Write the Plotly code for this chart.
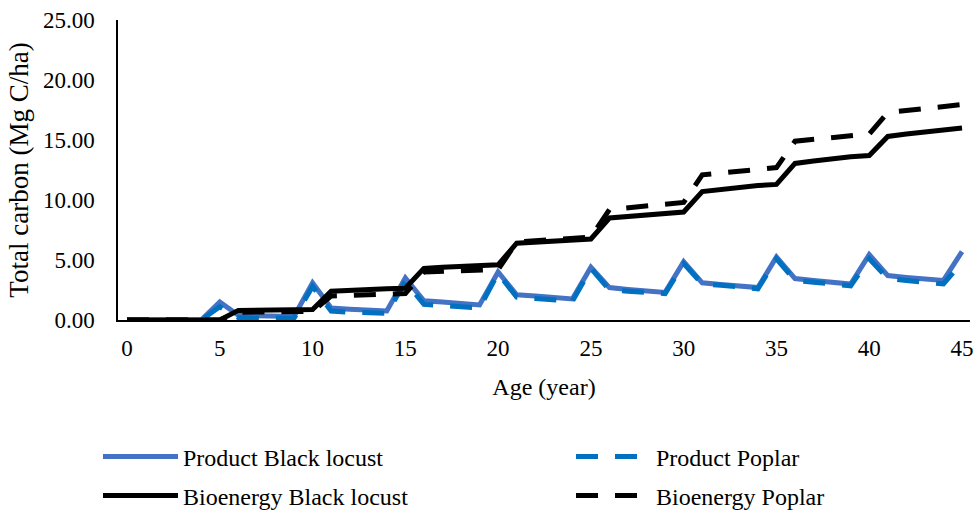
import plotly.graph_objects as go

age = list(range(0, 46))

product_black_locust = [0, 0, 0, 0, 0, 1.5, 0.4, 0.35, 0.3, 0.3,
                        3.1, 1.0, 0.9, 0.8, 0.75, 3.5, 1.6, 1.5, 1.35, 1.25,
                        4.0, 2.1, 2.0, 1.85, 1.75, 4.4, 2.7, 2.55, 2.4, 2.3,
                        4.85, 3.1, 2.95, 2.8, 2.7, 5.25, 3.45, 3.3, 3.15, 3.0,
                        5.45, 3.7, 3.55, 3.4, 3.3, 5.7]
product_poplar = [0, 0, 0, 0, 0, 1.1, 0.2, 0.15, 0.15, 0.15,
                  2.8, 0.75, 0.65, 0.6, 0.55, 3.2, 1.3, 1.2, 1.1, 1.0,
                  3.9, 1.9, 1.8, 1.65, 1.55, 4.3, 2.5, 2.4, 2.3, 2.2,
                  4.7, 3.0, 2.9, 2.75, 2.6, 5.1, 3.3, 3.15, 3.0, 2.85,
                  5.1, 3.45, 3.3, 3.15, 3.0, 4.8]
bioenergy_black_locust = [0, 0, 0, 0, 0, 0, 0.8, 0.82, 0.84, 0.85,
                          0.87, 2.4, 2.5, 2.55, 2.6, 2.65, 4.3, 4.4, 4.45, 4.5,
                          4.6, 6.4, 6.5, 6.6, 6.7, 6.75, 8.5, 8.65, 8.8, 8.9,
                          9.0, 10.7, 10.9, 11.05, 11.2, 11.3, 13.05, 13.25, 13.45, 13.6,
                          13.7, 15.3, 15.5, 15.65, 15.85, 16.0]
bioenergy_poplar = [0, 0, 0, 0, 0, 0, 0.65, 0.68, 0.7, 0.7,
                    0.72, 2.0, 2.05, 2.1, 2.15, 2.2, 4.0, 4.05, 4.1, 4.15,
                    4.2, 6.5, 6.6, 6.7, 6.8, 6.9, 9.2, 9.35, 9.5, 9.65,
                    9.8, 12.1, 12.25, 12.4, 12.55, 12.7, 14.9, 15.05, 15.2, 15.35,
                    15.5, 17.3, 17.45, 17.6, 17.75, 17.95]

x_ticks = [0, 5, 10, 15, 20, 25, 30, 35, 40, 45]
y_ticks = [0, 5, 10, 15, 20, 25]

FONT = "Liberation Serif, Times New Roman, serif"
DASH = "22px,17px"

fig = go.Figure()
fig.add_trace(go.Scatter(x=age, y=product_black_locust, mode="lines",
                         name="Product Black locust", legend="legend",
                         line=dict(color="#4472C4", width=5)))
fig.add_trace(go.Scatter(x=age, y=product_poplar, mode="lines",
                         name="Product Poplar", legend="legend2",
                         line=dict(color="#0070C0", width=5, dash=DASH)))
fig.add_trace(go.Scatter(x=age, y=bioenergy_black_locust, mode="lines",
                         name="Bioenergy Black locust", legend="legend3",
                         line=dict(color="#000000", width=5)))
fig.add_trace(go.Scatter(x=age, y=bioenergy_poplar, mode="lines",
                         name="Bioenergy Poplar", legend="legend4",
                         line=dict(color="#000000", width=5, dash=DASH)))

L, R, T, B = 118, 8, 20, 191
W, H = 978, 511
pw, ph = W - L - R, H - T - B


def leg(xpx, ypx, iw):
    return dict(x=xpx / W, xref="container", xanchor="left",
                y=1 - ypx / H, yref="container", yanchor="middle",
                orientation="h", itemwidth=iw, bgcolor="rgba(0,0,0,0)",
                font=dict(family=FONT, size=24, color="black"))


fig.update_layout(
    width=W, height=H,
    margin=dict(l=L, r=R, t=T, b=B),
    paper_bgcolor="white", plot_bgcolor="white",
    font=dict(family=FONT, size=22, color="black"),
    showlegend=True,
    legend=leg(98, 457, 75),
    legend2=leg(571, 457, 75),
    legend3=leg(98, 496, 75),
    legend4=leg(571, 496, 75),
    xaxis=dict(range=[-0.485, 45.43], tickvals=x_ticks, showgrid=False,
               zeroline=False, showline=True, linecolor="black", linewidth=1.5,
               ticks="", tickfont=dict(size=23), ticklabelstandoff=7,
               automargin=False,
               title=dict(text="Age (year)", font=dict(size=24), standoff=18)),
    yaxis=dict(range=[0, 25], tickvals=y_ticks, tickformat=".2f", showgrid=False,
               zeroline=False, showline=True, linecolor="black", linewidth=1.5,
               ticks="", tickfont=dict(size=23), ticklabelstandoff=17,
               automargin=False,
               title=dict(text="Total carbon (Mg C/ha)", font=dict(size=27), standoff=6)),
)

fig.write_html("out.html",
               config={"displayModeBar": False},
               post_script="document.body.style.margin='0';document.body.style.overflow='hidden';")
